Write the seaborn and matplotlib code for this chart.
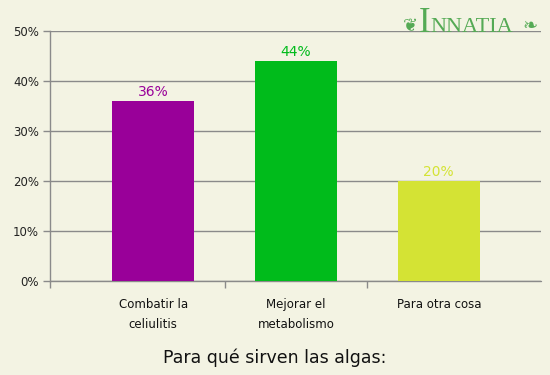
import matplotlib
matplotlib.use("Agg")
import matplotlib.pyplot as plt
import seaborn as sns
import pandas as pd

# datos
categorias = ["Combatir la\nceliulitis", "Mejorar el\nmetabolismo", "Para otra cosa"]
porcentajes = [36, 44, 20]
colores = ["#990099", "#00BB1B", "#D4E334"]

fondo = "#F3F3E3"
gris = "#8A8A8A"

sns.set_style("white")
plt.rcParams["font.family"] = ["DejaVu Sans"]

df = pd.DataFrame({"cat": categorias, "pct": porcentajes})

fig = plt.figure(figsize=(5.5, 3.75), dpi=100, facecolor=fondo)
ax = fig.add_axes([50 / 550, 1 - 281 / 375, 491 / 550, 250 / 375])
ax.set_facecolor(fondo)

sns.barplot(data=df, x="cat", y="pct", hue="cat", palette=colores,
            width=0.575, saturation=1, legend=False, ax=ax, zorder=3,
            linewidth=0, edgecolor="none")

# etiquetas de valor encima de cada barra
for i, v in enumerate(porcentajes):
    ax.text(i, v + 0.3, f"{v}%", ha="center", va="bottom",
            color=colores[i], fontsize=10, zorder=4)

ax.set_ylim(0, 50)
ax.set_xlim(-0.723, 2.716)
ax.set_yticks(range(0, 51, 10))
ax.set_yticklabels([f"{t}%" for t in range(0, 51, 10)], fontsize=8.5, color="#222222")
ax.yaxis.grid(True, color=gris, linewidth=1, zorder=0)
ax.axhline(0, color=gris, linewidth=1, zorder=2, clip_on=False)
ax.tick_params(axis="y", length=5, width=1, color=gris, pad=3, left=True)

ax.set_xticks(range(len(categorias)))
ax.set_xticklabels(categorias, fontsize=8.5, color="#111111", linespacing=1.75)
ax.tick_params(axis="x", length=0, pad=12)
ax.set_xticks([-0.723, 0.5, 1.5], minor=True)
ax.tick_params(axis="x", which="minor", length=5, width=1, color=gris, bottom=True)

for s in ["top", "right", "bottom"]:
    ax.spines[s].set_visible(False)
ax.spines["left"].set_color(gris)
ax.spines["left"].set_linewidth(1)

ax.set_xlabel("")
ax.set_ylabel("")

fig.text(0.5, 1 - 358 / 375, "Para qué sirven las algas:", ha="center", va="center",
         fontsize=12.5, color="#111111")

# logo de la fuente
verde_logo = "#55AA55"
fig.text(410 / 550, 1 - 31 / 375, "\u2766", ha="center", va="baseline",
         fontsize=13, color=verde_logo)
fig.text(419 / 550, 1 - 32 / 375, "I", ha="left", va="baseline",
         fontsize=25, color=verde_logo, family=["Liberation Serif"])
fig.text(430 / 550, 1 - 32 / 375, "NNATIA", ha="left", va="baseline",
         fontsize=16, color=verde_logo, family=["Liberation Serif"])
fig.text(530 / 550, 1 - 31 / 375, "\u2767", ha="center", va="baseline",
         fontsize=13, color=verde_logo)

fig.savefig("out.png", dpi=100, facecolor=fondo)
